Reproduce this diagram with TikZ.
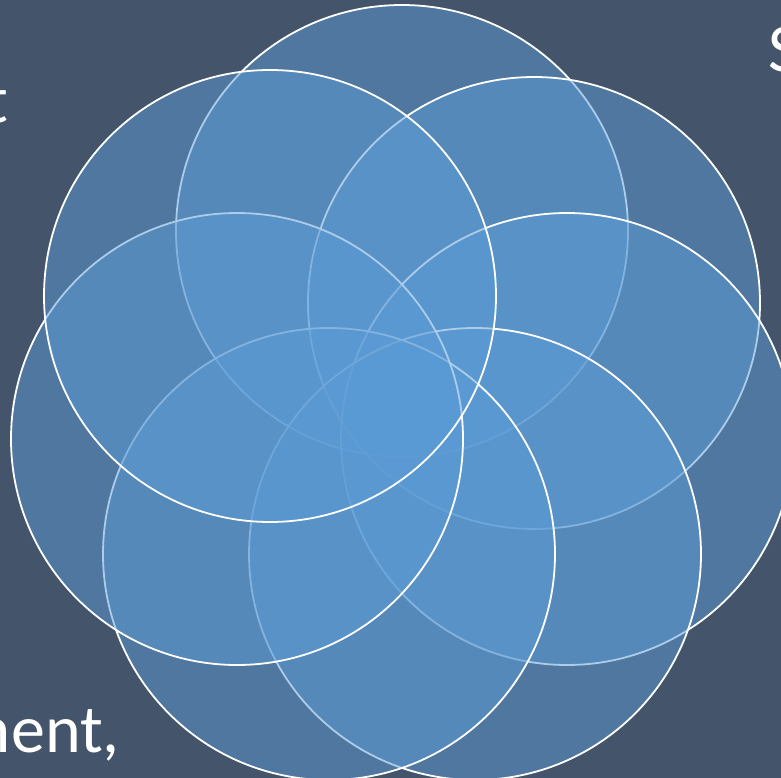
\documentclass[tikz,border=0pt]{standalone}
\usepackage{fontspec}
\setmainfont{Carlito}
\definecolor{bgcol}{HTML}{44546A}
\definecolor{petal}{HTML}{5B9BD5}
\begin{document}
\begin{tikzpicture}[x=1pt,y=-1pt,
  petalc/.style={draw=white,line width=1.8pt,fill=petal,fill opacity=0.5,draw opacity=1},
  lbl/.style={text=white,inner sep=0pt,font=\fontsize{68}{80}\selectfont}]
\useasboundingbox (0,0) rectangle (781,778);
\clip (0,0) rectangle (781,778);
\fill[bgcol] (0,0) rectangle (781,778);
\node[lbl,anchor=base east] (t1) at (8,123) {t};
\node[lbl,anchor=base west] (t2) at (768,72) {S};
\node[lbl,anchor=base east] (t3) at (120,752) {ment,};
\coordinate (c1) at (402,231);
\coordinate (c2) at (534,303);
\coordinate (c3) at (567,439);
\coordinate (c4) at (475,554);
\coordinate (c5) at (329,554);
\coordinate (c6) at (237,439);
\coordinate (c7) at (270,296);
\foreach \c in {c1,c2,c3,c4,c5,c6,c7}{
  \path[petalc] (\c) circle[radius=226pt];
}
\end{tikzpicture}
\end{document}
